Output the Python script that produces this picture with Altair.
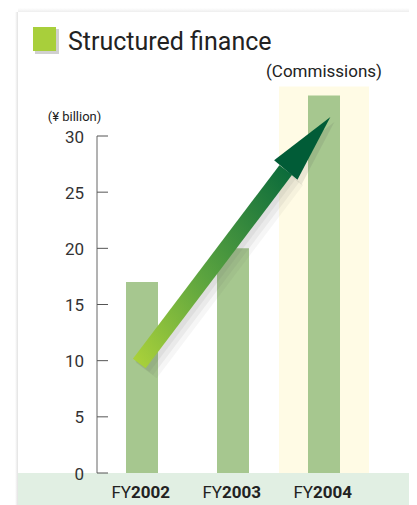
import math
import altair as alt
import pandas as pd

# ---------------- data ----------------
years = ["2002", "2003", "2004"]
prefixes = ["FY", "FY", "FY"]
commissions = [17.0, 20.0, 33.6]          # ¥ billion
y_ticks = [0, 5, 10, 15, 20, 25, 30]
highlight_year = "2004"
title_text = "Structured finance"
unit_text = "(¥ billion)"
measure_text = "(Commissions)"
# trend arrow: tail, head base, tip  (category position, ¥ billion)
arrow_pos = [-0.03, 1.58, 2.07]
arrow_val = [9.75, 26.97, 31.69]

# ---------------- layout ----------------
W, H = 391, 493            # plot area (page x 18..409, y 12..505)
X_STEP = 91.0              # px between categories
X0_PX = 124.0              # plot-local px of first category
Y_UNIT = 11.2333           # px per ¥1 billion
Y0_PX = 461.0              # plot-local px of zero
x_dom = [-X0_PX / X_STEP, (W - X0_PX) / X_STEP]
y_dom = [-(H - Y0_PX) / Y_UNIT, Y0_PX / Y_UNIT]
HIGHLIGHT_TOP = 34.4
MEASURE_Y = 35.25
AXIS_PX = 79               # plot-local x of the value axis line

FONT = "Roboto"
TXT = "#222222"

xs = alt.Scale(domain=x_dom, nice=False, zero=False, padding=0)
ys = alt.Scale(domain=y_dom, nice=False, zero=False, padding=0)

df = pd.DataFrame({"pos": list(range(len(years))), "year": years,
                   "fy": prefixes, "value": commissions})
ticks_df = pd.DataFrame({"t": y_ticks, "lab": [str(t) for t in y_ticks]})
one = pd.DataFrame({"k": [0]})

X = alt.X("pos:Q", scale=xs, axis=None)

# bottom band
band = alt.Chart(one).mark_rect(color="#e1efe3").encode(
    x=alt.value(0), x2=alt.value(W), y=alt.value(Y0_PX), y2=alt.value(H))

# card shadows (left, top)
left_shadow = alt.Chart(one).mark_rect(
    color=alt.Gradient(gradient="linear", x1=0, y1=0, x2=1, y2=0,
                       stops=[alt.GradientStop(color="#ffffff", offset=0),
                              alt.GradientStop(color="#e2e2e2", offset=1)])
).encode(x=alt.value(-3), x2=alt.value(0), y=alt.value(0), y2=alt.value(H))
top_shadow = alt.Chart(one).mark_rect(
    color=alt.Gradient(gradient="linear", x1=0, y1=0, x2=0, y2=1,
                       stops=[alt.GradientStop(color="#ffffff", offset=0),
                              alt.GradientStop(color="#eeeeee", offset=1)])
).encode(x=alt.value(0), x2=alt.value(W), y=alt.value(-4), y2=alt.value(0))

# highlight column
highlight = alt.Chart(df).transform_filter(
    alt.datum.year == highlight_year
).transform_calculate(top=str(HIGHLIGHT_TOP)).mark_bar(
    size=X_STEP - 1, color="#fffbe5"
).encode(x=X, y=alt.Y("top:Q", scale=ys, axis=None))

# bars
bars = alt.Chart(df).mark_bar(size=32, color="#a6c78f").encode(
    x=X, y=alt.Y("value:Q", scale=ys, axis=None))

# value axis: line, ticks, labels
axis_line = alt.Chart(pd.DataFrame({"a": [y_ticks[0]], "b": [y_ticks[-1]]})).mark_rule(
    color="#666666", strokeWidth=1
).encode(x=alt.value(AXIS_PX), y=alt.Y("a:Q", scale=ys, axis=None), y2="b:Q")
axis_ticks = alt.Chart(ticks_df).mark_rule(color="#555555", strokeWidth=1).encode(
    x=alt.value(AXIS_PX), x2=alt.value(AXIS_PX + 11),
    y=alt.Y("t:Q", scale=ys, axis=None))
axis_labels = alt.Chart(ticks_df).mark_text(
    align="right", baseline="alphabetic", dy=6.5, font=FONT, fontSize=17,
    color="#333333"
).encode(x=alt.value(AXIS_PX - 13), y=alt.Y("t:Q", scale=ys, axis=None),
         text="lab:N")

# arrow
arrow_df = pd.DataFrame({"pos": arrow_pos[:2], "val": arrow_val[:2], "o": [0, 1]})
AX = alt.X("pos:Q", scale=xs, axis=None)
AY = alt.Y("val:Q", scale=ys, axis=None)
shadow_layers = [
    alt.Chart(arrow_df).mark_line(strokeWidth=w, strokeCap="butt", color="#555555",
                                  opacity=op, xOffset=off, yOffset=off).encode(
        x=AX, y=AY, order="o:Q")
    for w, op, off in [(26, 0.05, 7), (22, 0.07, 5), (18, 0.08, 3)]
]
shaft = alt.Chart(arrow_df).mark_line(
    strokeWidth=16, strokeCap="butt",
    stroke=alt.Gradient(gradient="linear", x1=0, y1=1, x2=1, y2=0,
                        stops=[alt.GradientStop(color="#a8d03a", offset=0),
                               alt.GradientStop(color="#5aa33f", offset=0.45),
                               alt.GradientStop(color="#0d6c3b", offset=1)])
).encode(x=AX, y=AY, order="o:Q")

hx = (arrow_pos[1] + arrow_pos[2]) / 2
hy = (arrow_val[1] + arrow_val[2]) / 2
dxp = (arrow_pos[2] - arrow_pos[1]) * X_STEP
dyp = (arrow_val[2] - arrow_val[1]) * Y_UNIT
head_len = math.hypot(dxp, dyp)
head_angle = math.degrees(math.atan2(dxp, dyp))
head_df = pd.DataFrame({"pos": [hx], "val": [hy]})
HEAD_SHAPE = "M0,-1L0.44,1L-0.44,1Z"
head_shadow = alt.Chart(head_df).mark_point(
    shape=HEAD_SHAPE, filled=True, opacity=0.12, color="#555555",
    size=head_len ** 2, angle=head_angle, xOffset=4, yOffset=5
).encode(x=AX, y=AY)
head = alt.Chart(head_df).mark_point(
    shape=HEAD_SHAPE, filled=True, opacity=1,
    color="#015c37", size=head_len ** 2, angle=head_angle
).encode(x=AX, y=AY)

# x labels
LAB_Y = 486
fy = alt.Chart(df).mark_text(align="right", baseline="alphabetic", dx=-11,
                             font=FONT, fontSize=17, color=TXT).encode(
    x=X, y=alt.value(LAB_Y), text="fy:N")
yr = alt.Chart(df).mark_text(align="left", baseline="alphabetic", dx=-11,
                             font=FONT, fontSize=17, fontWeight="bold",
                             color=TXT).encode(
    x=X, y=alt.value(LAB_Y), text="year:N")

# texts
measure = alt.Chart(df).transform_filter(
    alt.datum.year == highlight_year
).transform_calculate(ty=str(MEASURE_Y)).mark_text(
    align="center", baseline="alphabetic", font=FONT, fontSize=17, color=TXT
).encode(x=X, y=alt.Y("ty:Q", scale=ys, axis=None), text=alt.value(measure_text))

unit = alt.Chart(one).mark_text(align="center", baseline="alphabetic", font=FONT,
                                fontSize=13, color=TXT).encode(
    x=alt.value(56.5), y=alt.value(109), text=alt.value(unit_text))

sq_shadow = alt.Chart(one).mark_rect(color="#c4c4c4", opacity=0.8).encode(
    x=alt.value(17), x2=alt.value(41), y=alt.value(17), y2=alt.value(42))
sq = alt.Chart(one).mark_rect(color="#a8cf3b").encode(
    x=alt.value(15), x2=alt.value(38), y=alt.value(15), y2=alt.value(39))
title = alt.Chart(one).mark_text(align="left", baseline="alphabetic", font=FONT,
                                 fontSize=25, color=TXT).encode(
    x=alt.value(50), y=alt.value(37.5), text=alt.value(title_text))

chart = alt.layer(
    left_shadow, top_shadow, band, highlight, bars, axis_line, axis_ticks,
    axis_labels, *shadow_layers, head_shadow, shaft, head, fy, yr, measure,
    unit, sq_shadow, sq, title
).properties(
    width=W, height=H,
    autosize=alt.AutoSizeParams(type="none"),
    padding={"left": 10, "top": 4, "right": 0, "bottom": 0},
    background="white",
).configure_view(strokeWidth=0)

chart.save("out.html", embed_options={"renderer": "svg", "actions": False})
